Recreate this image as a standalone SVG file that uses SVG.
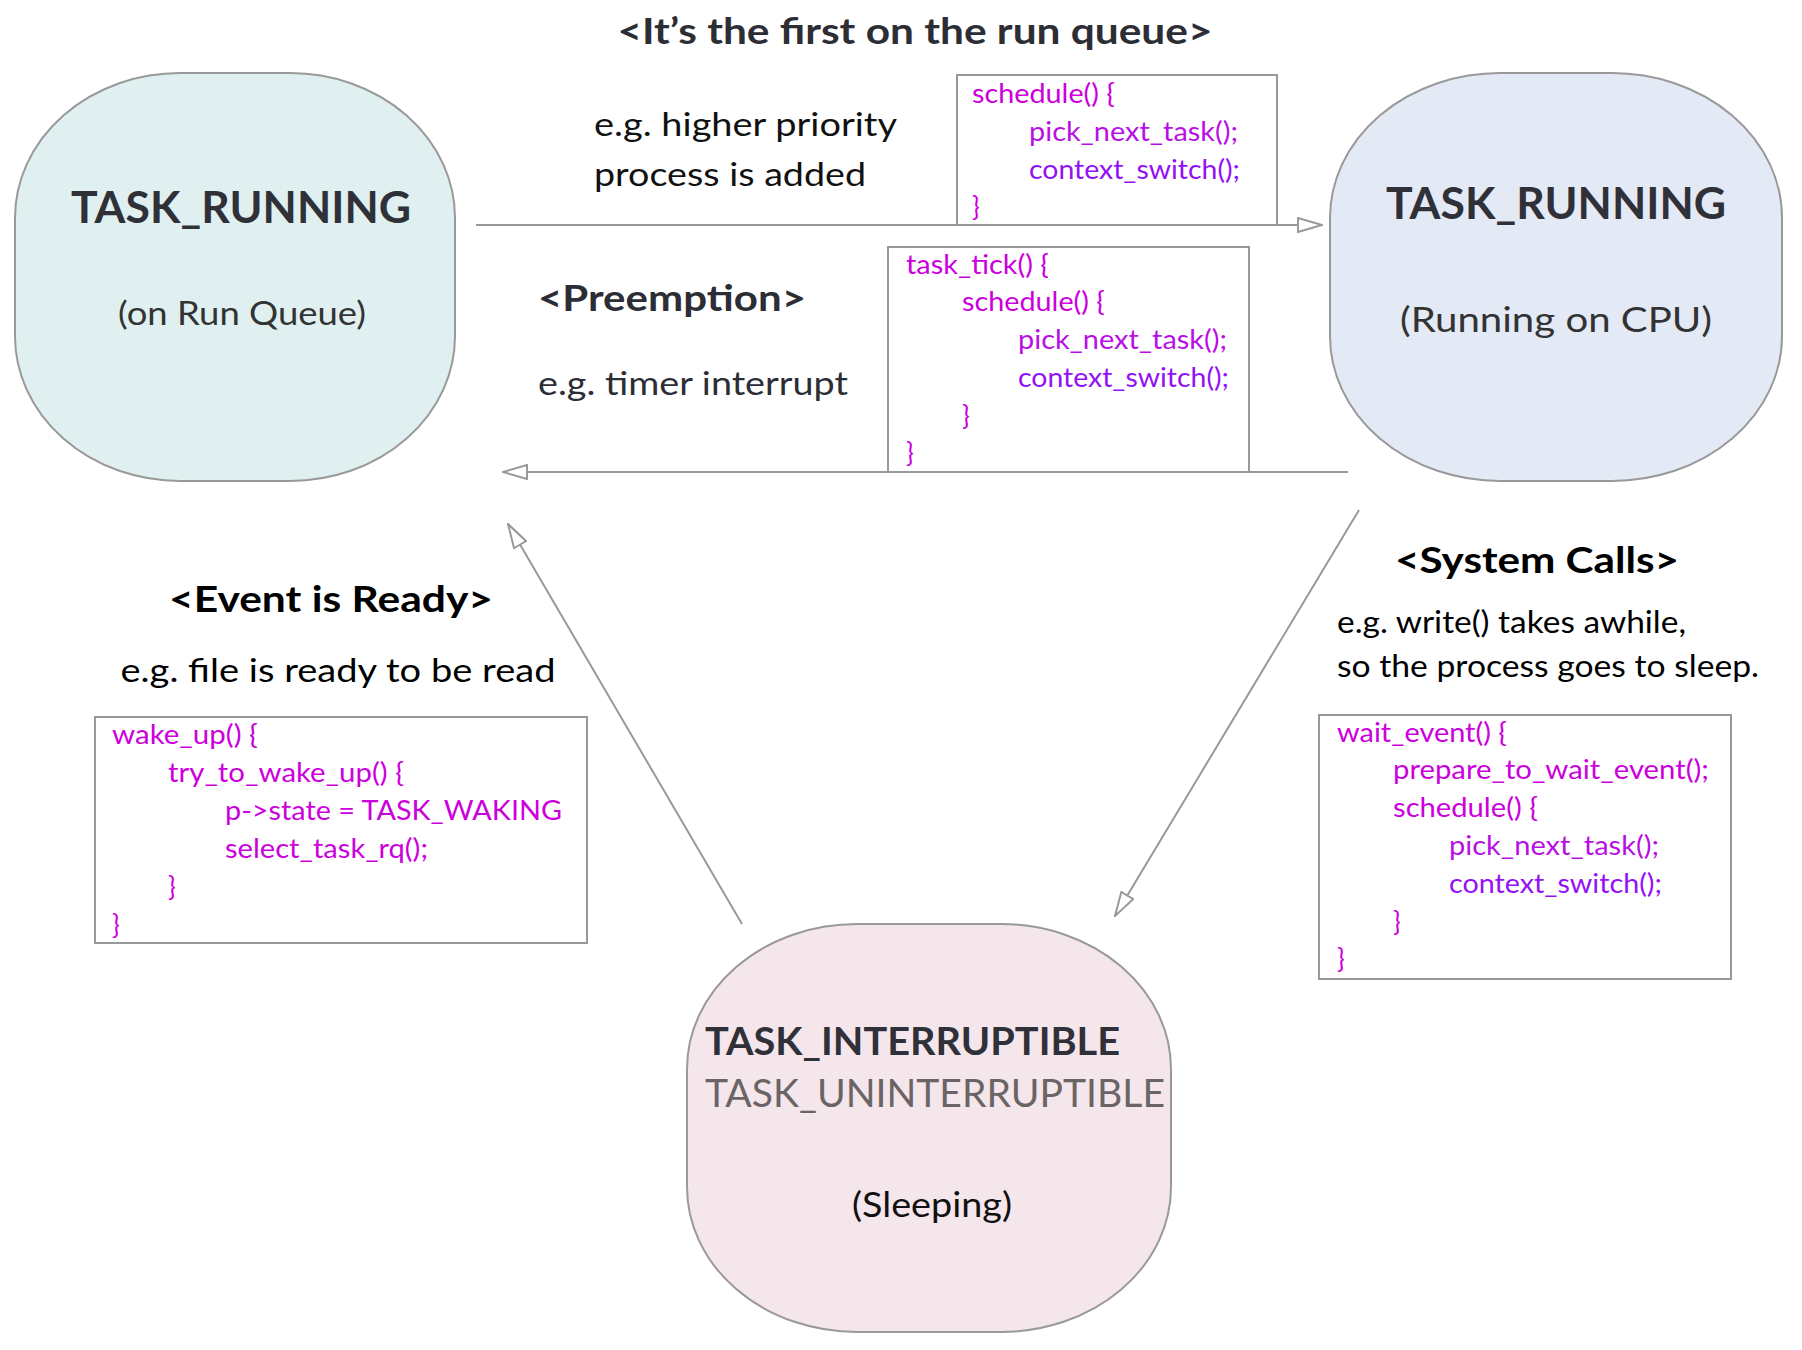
<svg xmlns="http://www.w3.org/2000/svg" width="1802" height="1350" viewBox="0 0 1802 1350">
<style>
text{font-family:Lato,"Noto Sans","DejaVu Sans",sans-serif}
.node{stroke:#999;stroke-width:2}
.title{font-size:44px;font-weight:700;fill:#2f3038;text-anchor:middle}
.sub{font-size:32px;fill:#333;text-anchor:middle}
.hd{font-size:36px;font-weight:700;fill:#2d2d35}
.lbl{font-size:33px;fill:#111}
.box{fill:#fff;stroke:#999;stroke-width:2}
.code{font-size:26px;fill:#CC00DD}
.c2{fill:#B810E4}
.c3{fill:#9410F6}
.conn{stroke:#999;stroke-width:2;fill:none;marker-end:url(#arr)}
</style>
<defs>
<marker id="arr" viewBox="0 0 26 16" refX="25" refY="8" markerWidth="26" markerHeight="16" markerUnits="userSpaceOnUse" orient="auto">
<path d="M1,1 L25,8 L1,15 Z" fill="#fff" stroke="#999" stroke-width="2"/>
</marker>
</defs>
<rect width="1802" height="1350" fill="#fff"/>

<g id="node-runqueue">
<rect class="node" x="15" y="73" width="440" height="408" rx="165" ry="145" fill="#E0F0F0"/>
<text class="title" x="241" y="223" textLength="340" lengthAdjust="spacingAndGlyphs">TASK_RUNNING</text>
<text class="sub" x="242" y="325" textLength="248" lengthAdjust="spacingAndGlyphs">(on Run Queue)</text>
</g>

<g id="node-cpu">
<rect class="node" x="1330" y="73" width="452" height="408" rx="170" ry="145" fill="#E3E9F5"/>
<text class="title" x="1556" y="219" textLength="340" lengthAdjust="spacingAndGlyphs">TASK_RUNNING</text>
<text class="sub" x="1556" y="332" style="font-size:34px" textLength="312" lengthAdjust="spacingAndGlyphs">(Running on CPU)</text>
</g>

<g id="node-sleeping">
<rect class="node" x="687" y="924" width="484" height="408" rx="170" ry="145" fill="#F5E6EC"/>
<text x="705" y="1055" style="font-size:39px;font-weight:700;fill:#2f3038" textLength="415" lengthAdjust="spacingAndGlyphs">TASK_INTERRUPTIBLE</text>
<text x="705" y="1107" style="font-size:39px;fill:#6a6464" textLength="460" lengthAdjust="spacingAndGlyphs">TASK_UNINTERRUPTIBLE</text>
<text x="932" y="1217" style="font-size:34px;fill:#111;text-anchor:middle" textLength="160" lengthAdjust="spacingAndGlyphs">(Sleeping)</text>
</g>

<g id="connectors">
<path class="conn" d="M476,225 L1322,225"/>
<path class="conn" d="M1348,472 L503,472"/>
<path class="conn" d="M742,924 L508,524"/>
<path class="conn" d="M1359,510 L1115,916"/>
</g>

<g id="label-first">
<text x="915" y="44" style="font-size:36px;font-weight:700;fill:#2d2d35;text-anchor:middle" textLength="595" lengthAdjust="spacingAndGlyphs">&lt;It’s the first on the run queue&gt;</text>
<text class="lbl" x="594" y="136" textLength="303" lengthAdjust="spacingAndGlyphs">e.g. higher priority</text>
<text class="lbl" x="594" y="186" textLength="272" lengthAdjust="spacingAndGlyphs">process is added</text>
</g>

<g id="code-schedule">
<rect class="box" x="957" y="75" width="320" height="150"/>
<text class="code" x="972" y="103" textLength="143" lengthAdjust="spacingAndGlyphs">schedule() {</text>
<text class="code c2" x="1029" y="141" textLength="209" lengthAdjust="spacingAndGlyphs">pick_next_task();</text>
<text class="code c3" x="1029" y="179" textLength="211" lengthAdjust="spacingAndGlyphs">context_switch();</text>
<text class="code" x="972" y="216">}</text>
</g>

<g id="label-preemption">
<text class="hd" x="538" y="311" textLength="268" lengthAdjust="spacingAndGlyphs">&lt;Preemption&gt;</text>
<text class="lbl" x="538" y="395" style="fill:#2d2d35" textLength="310" lengthAdjust="spacingAndGlyphs">e.g. timer interrupt</text>
</g>

<g id="code-tasktick">
<rect class="box" x="888" y="247" width="361" height="225"/>
<text class="code" x="906" y="274" textLength="143" lengthAdjust="spacingAndGlyphs">task_tick() {</text>
<text class="code" x="962" y="311" textLength="143" lengthAdjust="spacingAndGlyphs">schedule() {</text>
<text class="code c2" x="1018" y="349" textLength="209" lengthAdjust="spacingAndGlyphs">pick_next_task();</text>
<text class="code c3" x="1018" y="387" textLength="211" lengthAdjust="spacingAndGlyphs">context_switch();</text>
<text class="code" x="962" y="425">}</text>
<text class="code" x="906" y="462">}</text>
</g>

<g id="label-event">
<text class="hd" x="331" y="612" style="text-anchor:middle;fill:#000" textLength="324" lengthAdjust="spacingAndGlyphs">&lt;Event is Ready&gt;</text>
<text class="lbl" x="338" y="682" style="text-anchor:middle;fill:#000" textLength="435" lengthAdjust="spacingAndGlyphs">e.g. file is ready to be read</text>
</g>

<g id="code-wakeup">
<rect class="box" x="95" y="717" width="492" height="226"/>
<text class="code" x="112" y="744" textLength="146" lengthAdjust="spacingAndGlyphs">wake_up() {</text>
<text class="code" x="168" y="782" textLength="236" lengthAdjust="spacingAndGlyphs">try_to_wake_up() {</text>
<text class="code" x="225" y="820" textLength="337" lengthAdjust="spacingAndGlyphs">p-&gt;state = TASK_WAKING</text>
<text class="code" x="225" y="858" textLength="203" lengthAdjust="spacingAndGlyphs">select_task_rq();</text>
<text class="code" x="168" y="896">}</text>
<text class="code" x="112" y="934">}</text>
</g>

<g id="label-syscalls">
<text class="hd" x="1537" y="573" style="text-anchor:middle;fill:#000" textLength="284" lengthAdjust="spacingAndGlyphs">&lt;System Calls&gt;</text>
<text x="1337" y="633" style="font-size:30px;fill:#000" textLength="349" lengthAdjust="spacingAndGlyphs">e.g. write() takes awhile,</text>
<text x="1337" y="677" style="font-size:30px;fill:#000" textLength="422" lengthAdjust="spacingAndGlyphs">so the process goes to sleep.</text>
</g>

<g id="code-waitevent">
<rect class="box" x="1319" y="715" width="412" height="264"/>
<text class="code" x="1337" y="742" textLength="170" lengthAdjust="spacingAndGlyphs">wait_event() {</text>
<text class="code" x="1393" y="779" textLength="316" lengthAdjust="spacingAndGlyphs">prepare_to_wait_event();</text>
<text class="code" x="1393" y="817" textLength="145" lengthAdjust="spacingAndGlyphs">schedule() {</text>
<text class="code c2" x="1449" y="855" textLength="210" lengthAdjust="spacingAndGlyphs">pick_next_task();</text>
<text class="code c3" x="1449" y="893" textLength="213" lengthAdjust="spacingAndGlyphs">context_switch();</text>
<text class="code" x="1393" y="931">}</text>
<text class="code" x="1337" y="968">}</text>
</g>
</svg>
